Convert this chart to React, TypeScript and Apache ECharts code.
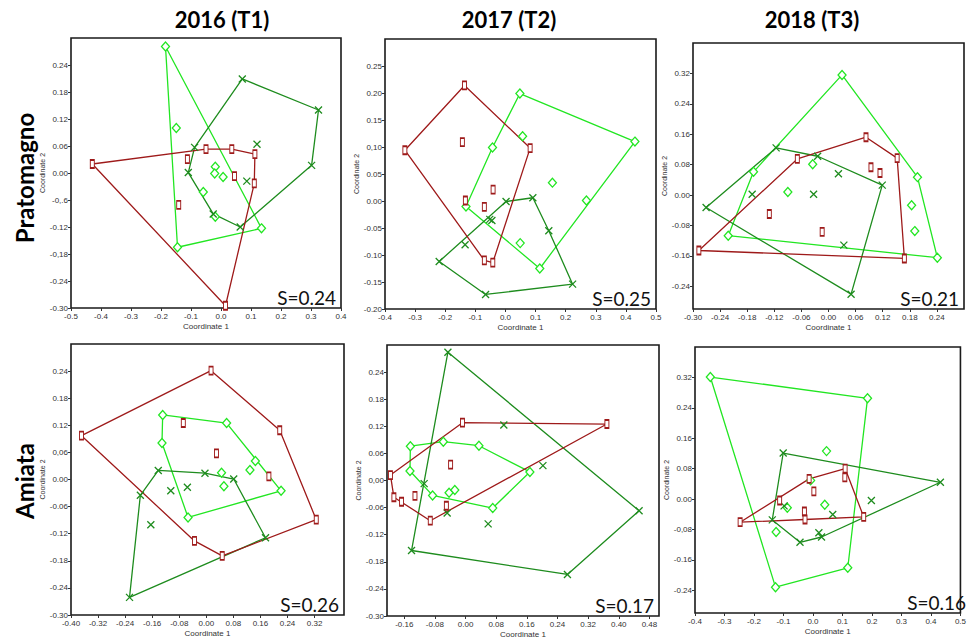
import React, { useEffect, useRef } from "react";
import * as echarts from "echarts";

// ---------- texts ----------
const yearTitles = ["2016 (T1)", "2017 (T2)", "2018 (T3)"];
const siteNames = ["Pratomagno", "Amiata"];
const stressLabels = ["S=0.24", "S=0.25", "S=0.21", "S=0.26", "S=0.17", "S=0.16"];

// ---------- Pratomagno 2016 ----------
const p1Light = [[-0.185, 0.281], [-0.149, 0.1], [-0.019, 0.014], [-0.021, -0.001], [0.007, -0.009], [-0.059, -0.042], [-0.019, -0.097], [0.135, -0.123], [-0.145, -0.165]];
const p1Dark = [[0.071, 0.209], [0.325, 0.14], [0.302, 0.017], [0.086, -0.018], [0.12, 0.064], [-0.088, 0.057], [-0.109, 0.001], [-0.026, -0.091], [0.064, -0.12]];
const p1Red = [[-0.429, 0.02], [-0.05, 0.053], [0.036, 0.053], [0.113, 0.042], [-0.112, 0.031], [0.045, -0.007], [0.111, -0.023], [-0.141, -0.071], [0.015, -0.295]];
const p1XTicks = [-0.5, -0.4, -0.3, -0.2, -0.1, 0, 0.1, 0.2, 0.3, 0.4];
const p1XLabels = ["-0.5", "-0.4", "-0.3", "-0.2", "-0.1", "0.0", "0.1", "0.2", "0.3", "0.4"];
const p1YTicks = [-0.3, -0.24, -0.18, -0.12, -0.06, 0, 0.06, 0.12, 0.18, 0.24];
const p1YLabels = ["-0.30", "-0.24", "-0,18", "-0.12", "-0,.6", "0.00", "0.06", "0.12", "0.18", "0.24"];

// ---------- Pratomagno 2017 ----------
const p2Light = [[0.048, 0.199], [0.43, 0.11], [0.057, 0.12], [-0.043, 0.099], [0.156, 0.034], [0.269, 0.001], [-0.131, -0.01], [0.049, -0.078], [0.114, -0.125]];
const p2Dark = [[0.002, -0.001], [0.091, 0.006], [0.144, -0.055], [0.223, -0.154], [-0.066, -0.173], [-0.22, -0.112], [-0.134, -0.081], [-0.045, -0.036], [-0.052, -0.034]];
const p2Red = [[-0.136, 0.214], [-0.334, 0.094], [0.082, 0.098], [-0.143, 0.109], [-0.041, 0.021], [-0.133, 0.001], [-0.07, -0.011], [-0.07, -0.11], [-0.042, -0.114]];
const p2XTicks = [-0.4, -0.3, -0.2, -0.1, 0, 0.1, 0.2, 0.3, 0.4, 0.5];
const p2XLabels = ["-0.4", "-0.3", "-0.2", "-0.1", "0.0", "0.1", "0.2", "0.3", "0.4", "0.5"];
const p2YTicks = [-0.2, -0.15, -0.1, -0.05, 0, 0.05, 0.1, 0.15, 0.2, 0.25];
const p2YLabels = ["-0.20", "-0.15", "-0.10", "-0.05", "0.00", "0.05", "0,10", "0.15", "0.20", "0.25"];

// ---------- Pratomagno 2018 ----------
const p3Light = [[0.03, 0.316], [0.197, 0.047], [0.241, -0.165], [-0.222, -0.107], [-0.166, 0.061], [-0.09, 0.008], [-0.035, 0.081], [0.184, -0.027], [0.191, -0.095]];
const p3Dark = [[-0.116, 0.124], [-0.024, 0.102], [0.119, 0.026], [0.05, -0.261], [-0.271, -0.033], [-0.169, 0.002], [-0.033, 0.002], [0.022, 0.056], [0.034, -0.132]];
const p3Red = [[0.083, 0.152], [0.152, 0.097], [0.168, -0.167], [-0.287, -0.146], [-0.069, 0.095], [0.094, 0.073], [0.114, 0.058], [-0.131, -0.05], [-0.014, -0.097]];
const p3XTicks = [-0.3, -0.24, -0.18, -0.12, -0.06, 0, 0.06, 0.12, 0.18, 0.24];
const p3XLabels = ["-0.30", "-0.24", "-0.18", "-0.12", "-0.06", "0.00", "0.06", "0.12", "0.18", "0.24"];
const p3YTicks = [-0.24, -0.16, -0.08, 0, 0.08, 0.16, 0.24, 0.32];
const p3YLabels = ["-0.24", "-0.16", "-0.08", "0.00", "0.08", "0.16", "0.24", "0.32"];

// ---------- Amiata 2016 ----------
const p4Light = [[-0.129, 0.143], [0.06, 0.125], [0.145, 0.041], [0.221, -0.025], [-0.054, -0.084], [-0.131, 0.081], [0.129, 0.021], [0.045, 0.015], [0.052, -0.015]];
const p4Dark = [[-0.142, 0.02], [-0.004, 0.014], [0.081, 0.001], [0.175, -0.129], [-0.227, -0.261], [-0.195, -0.035], [-0.105, -0.025], [-0.056, -0.017], [-0.164, -0.1]];
const p4Red = [[0.014, 0.241], [0.217, 0.109], [0.325, -0.089], [0.047, -0.169], [-0.035, -0.136], [-0.369, 0.097], [-0.068, 0.125], [0.03, 0.058], [0.185, 0.007]];
const p4XTicks = [-0.4, -0.32, -0.24, -0.16, -0.08, 0, 0.08, 0.16, 0.24, 0.32];
const p4XLabels = ["-0.40", "-0.32", "-0.24", "-0.16", "-0.08", "0.00", "0.08", "0.16", "0.24", "0.32"];
const p4YTicks = [-0.3, -0.24, -0.18, -0.12, -0.06, 0, 0.06, 0.12, 0.18, 0.24];
const p4YLabels = ["-0.30", "-0.24", "-0.18", "-0.12", "-0.06", "0.00", "0,06", "0.12", "0.18", "0.24"];

// ---------- Amiata 2017 ----------
const p5Light = [[-0.144, 0.076], [-0.058, 0.086], [0.035, 0.077], [0.168, 0.019], [0.071, -0.061], [-0.086, -0.033], [-0.145, 0.021], [-0.043, -0.027], [-0.028, -0.021]];
const p5Dark = [[-0.046, 0.284], [0.453, -0.067], [0.266, -0.208], [-0.141, -0.155], [0.1, 0.123], [0.202, 0.033], [-0.108, -0.007], [-0.048, -0.072], [0.059, -0.096]];
const p5Red = [[-0.008, 0.128], [0.369, 0.125], [-0.092, -0.089], [-0.167, -0.047], [-0.187, -0.037], [-0.196, 0.012], [-0.132, -0.034], [-0.05, -0.056], [-0.039, 0.035]];
const p5XTicks = [-0.16, -0.08, 0, 0.08, 0.16, 0.24, 0.32, 0.4, 0.48];
const p5XLabels = ["-0.16", "-0.08", "0.00", "0.08", "0.16", "0.24", "0.32", "0.40", "0.48"];
const p5YTicks = [-0.3, -0.24, -0.18, -0.12, -0.06, 0, 0.06, 0.12, 0.18, 0.24];
const p5YLabels = ["-0.30", "-0.24", "-0.18", "-0.12", "-0.06", "0,00", "0.06", "0.12", "0.18", "0.24"];

// ---------- Amiata 2018 ----------
const p6Light = [[-0.348, 0.321], [0.185, 0.265], [0.118, -0.181], [-0.127, -0.232], [0.046, 0.126], [-0.008, 0.049], [0.04, -0.015], [-0.087, -0.023], [-0.125, -0.087]];
const p6Dark = [[-0.101, 0.121], [0.432, 0.044], [0.029, -0.1], [-0.044, -0.114], [-0.138, -0.055], [-0.098, -0.018], [0.067, -0.041], [0.198, -0.004], [0.02, -0.089]];
const p6Red = [[-0.247, -0.061], [-0.113, -0.004], [-0.013, 0.053], [0.109, 0.08], [0.172, -0.047], [0.108, 0.057], [0.003, 0.02], [-0.029, -0.033], [-0.027, -0.054]];
const p6XTicks = [-0.4, -0.3, -0.2, -0.1, 0, 0.1, 0.2, 0.3, 0.4, 0.5];
const p6XLabels = ["-0.4", "-0.3", "-0.2", "-0.1", "0.0", "0.1", "0.2", "0.3", "0.4", "0.5"];
const p6YTicks = [-0.24, -0.16, -0.08, 0, 0.08, 0.16, 0.24, 0.32];
const p6YLabels = ["-0.24", "-0.16", "-0,08", "0.00", "0.08", "0.16", "0.24", "0.32"];

// ---------- layout & styles ----------
const LIGHT = "#22e622";
const DARK = "#1e8c1e";
const RED = "#9e1a1a";

const panels = [
  { grid: { left: 71, top: 38, width: 270, height: 270 }, x: [-0.5, 0.4], y: [-0.3, 0.3], light: p1Light, dark: p1Dark, red: p1Red, xt: p1XTicks, xl: p1XLabels, yt: p1YTicks, yl: p1YLabels, yGap: 24 },
  { grid: { left: 385, top: 39, width: 271, height: 270 }, x: [-0.4, 0.5], y: [-0.2, 0.3], light: p2Light, dark: p2Dark, red: p2Red, xt: p2XTicks, xl: p2XLabels, yt: p2YTicks, yl: p2YLabels, yGap: 22 },
  { grid: { left: 693, top: 43, width: 271, height: 266 }, x: [-0.3, 0.3], y: [-0.3, 0.4], light: p3Light, dark: p3Dark, red: p3Red, xt: p3XTicks, xl: p3XLabels, yt: p3YTicks, yl: p3YLabels, yGap: 22 },
  { grid: { left: 71, top: 344, width: 273, height: 271 }, x: [-0.4, 0.407], y: [-0.3, 0.3], light: p4Light, dark: p4Dark, red: p4Red, xt: p4XTicks, xl: p4XLabels, yt: p4YTicks, yl: p4YLabels, yGap: 24 },
  { grid: { left: 387, top: 345, width: 272, height: 271 }, x: [-0.205, 0.505], y: [-0.3, 0.3], light: p5Light, dark: p5Dark, red: p5Red, xt: p5XTicks, xl: p5XLabels, yt: p5YTicks, yl: p5YLabels, yGap: 24 },
  { grid: { left: 695, top: 347, width: 276, height: 266 }, x: [-0.4, 0.5], y: [-0.3, 0.4], light: p6Light, dark: p6Dark, red: p6Red, xt: p6XTicks, xl: p6XLabels, yt: p6YTicks, yl: p6YLabels, yGap: 25 },
];

const titleCenters = [222, 509, 812];
const siteCenters = [178, 481];

function convexHull(pts: number[][]): number[][] {
  const p = pts.slice().sort((a, b) => (a[0] === b[0] ? a[1] - b[1] : a[0] - b[0]));
  const cross = (o: number[], a: number[], b: number[]) => (a[0] - o[0]) * (b[1] - o[1]) - (a[1] - o[1]) * (b[0] - o[0]);
  const lower: number[][] = [];
  for (const q of p) {
    while (lower.length >= 2 && cross(lower[lower.length - 2], lower[lower.length - 1], q) <= 0) lower.pop();
    lower.push(q);
  }
  const upper: number[][] = [];
  for (let i = p.length - 1; i >= 0; i--) {
    const q = p[i];
    while (upper.length >= 2 && cross(upper[upper.length - 2], upper[upper.length - 1], q) <= 0) upper.pop();
    upper.push(q);
  }
  upper.pop();
  lower.pop();
  const hull = lower.concat(upper);
  hull.push(hull[0]);
  return hull;
}

const labelFor = (ticks: number[], labels: string[]) => (v: number) => {
  let best = 0;
  for (let i = 1; i < ticks.length; i++) if (Math.abs(ticks[i] - v) < Math.abs(ticks[best] - v)) best = i;
  return labels[best];
};

const AXIS_FONT = "Liberation Sans";

export default function App() {
  const ref = useRef<HTMLDivElement>(null);
  useEffect(() => {
    if (!ref.current) return;
    const chart = echarts.init(ref.current, undefined, { renderer: "svg" });
    const grids: any[] = [];
    const xAxes: any[] = [];
    const yAxes: any[] = [];
    const series: any[] = [];
    const graphics: any[] = [];

    panels.forEach((pn, i) => {
      grids.push({ ...pn.grid, show: true, borderColor: "#1a1a1a", borderWidth: 1.6, backgroundColor: "transparent" });
      xAxes.push({
        type: "value", gridIndex: i, min: pn.x[0], max: pn.x[1],
        name: "Coordinate 1", nameLocation: "middle", nameGap: 14,
        nameTextStyle: { fontSize: 8, color: "#333", fontFamily: AXIS_FONT },
        axisLine: { show: false, onZero: false },
        axisTick: { show: true, customValues: pn.xt, length: 3, lineStyle: { color: "#333" } },
        axisLabel: { customValues: pn.xt, formatter: labelFor(pn.xt, pn.xl), fontSize: 8, color: "#333", margin: 4, fontFamily: AXIS_FONT },
        splitLine: { show: false },
      });
      yAxes.push({
        type: "value", gridIndex: i, min: pn.y[0], max: pn.y[1],
        name: "Coordinate 2", nameLocation: "middle", nameGap: pn.yGap, nameRotate: 90,
        nameTextStyle: { fontSize: 7, color: "#333", fontFamily: AXIS_FONT },
        axisLine: { show: false, onZero: false },
        axisTick: { show: true, customValues: pn.yt, length: 3, lineStyle: { color: "#333" } },
        axisLabel: { customValues: pn.yt, formatter: labelFor(pn.yt, pn.yl), fontSize: 8, color: "#333", margin: 3, fontFamily: AXIS_FONT },
        splitLine: { show: false },
      });
      const groups = [
        { data: pn.light, color: LIGHT, symbol: "diamond", size: [8, 9], fill: "#fff" },
        { data: pn.dark, color: DARK, symbol: "path://M0,0L10,10M10,0L0,10", size: 7, fill: "rgba(0,0,0,0)" },
        { data: pn.red, color: RED, symbol: "rect", size: [4, 8], fill: "#fff" },
      ];
      groups.forEach((g) => {
        series.push({
          type: "line", xAxisIndex: i, yAxisIndex: i, data: convexHull(g.data),
          symbol: "none", lineStyle: { color: g.color, width: 1.3 }, silent: true, z: 2,
        });
      });
      groups.forEach((g) => {
        series.push({
          type: "scatter", xAxisIndex: i, yAxisIndex: i, data: g.data,
          symbol: g.symbol, symbolSize: g.size,
          itemStyle: { color: g.fill, borderColor: g.color, borderWidth: 1.3, opacity: 1 },
          silent: true, z: 3,
        });
      });
      graphics.push({
        type: "text", x: pn.grid.left + pn.grid.width - 5, y: pn.grid.top + pn.grid.height - 1, z: 10,
        style: { text: stressLabels[i], font: "19px Lato", fill: "#111", align: "right", verticalAlign: "bottom" },
      });
    });

    yearTitles.forEach((t, i) => {
      graphics.push({
        type: "text", x: titleCenters[i], y: 19,
        style: { text: t, font: "bold 22px Lato", fill: "#000", align: "center", verticalAlign: "middle" },
      });
    });
    siteNames.forEach((t, i) => {
      graphics.push({
        type: "text", x: 24, y: siteCenters[i], rotation: Math.PI / 2,
        style: { text: t, font: "bold 24px Lato", fill: "#000", align: "center", verticalAlign: "middle" },
      });
    });

    chart.setOption({
      animation: false,
      backgroundColor: "#fff",
      grid: grids,
      xAxis: xAxes,
      yAxis: yAxes,
      series,
      graphic: graphics,
    });
    return () => chart.dispose();
  }, []);
  return <div ref={ref} style={{ position: "absolute", left: 0, top: 0, width: 969, height: 639 }} />;
}
